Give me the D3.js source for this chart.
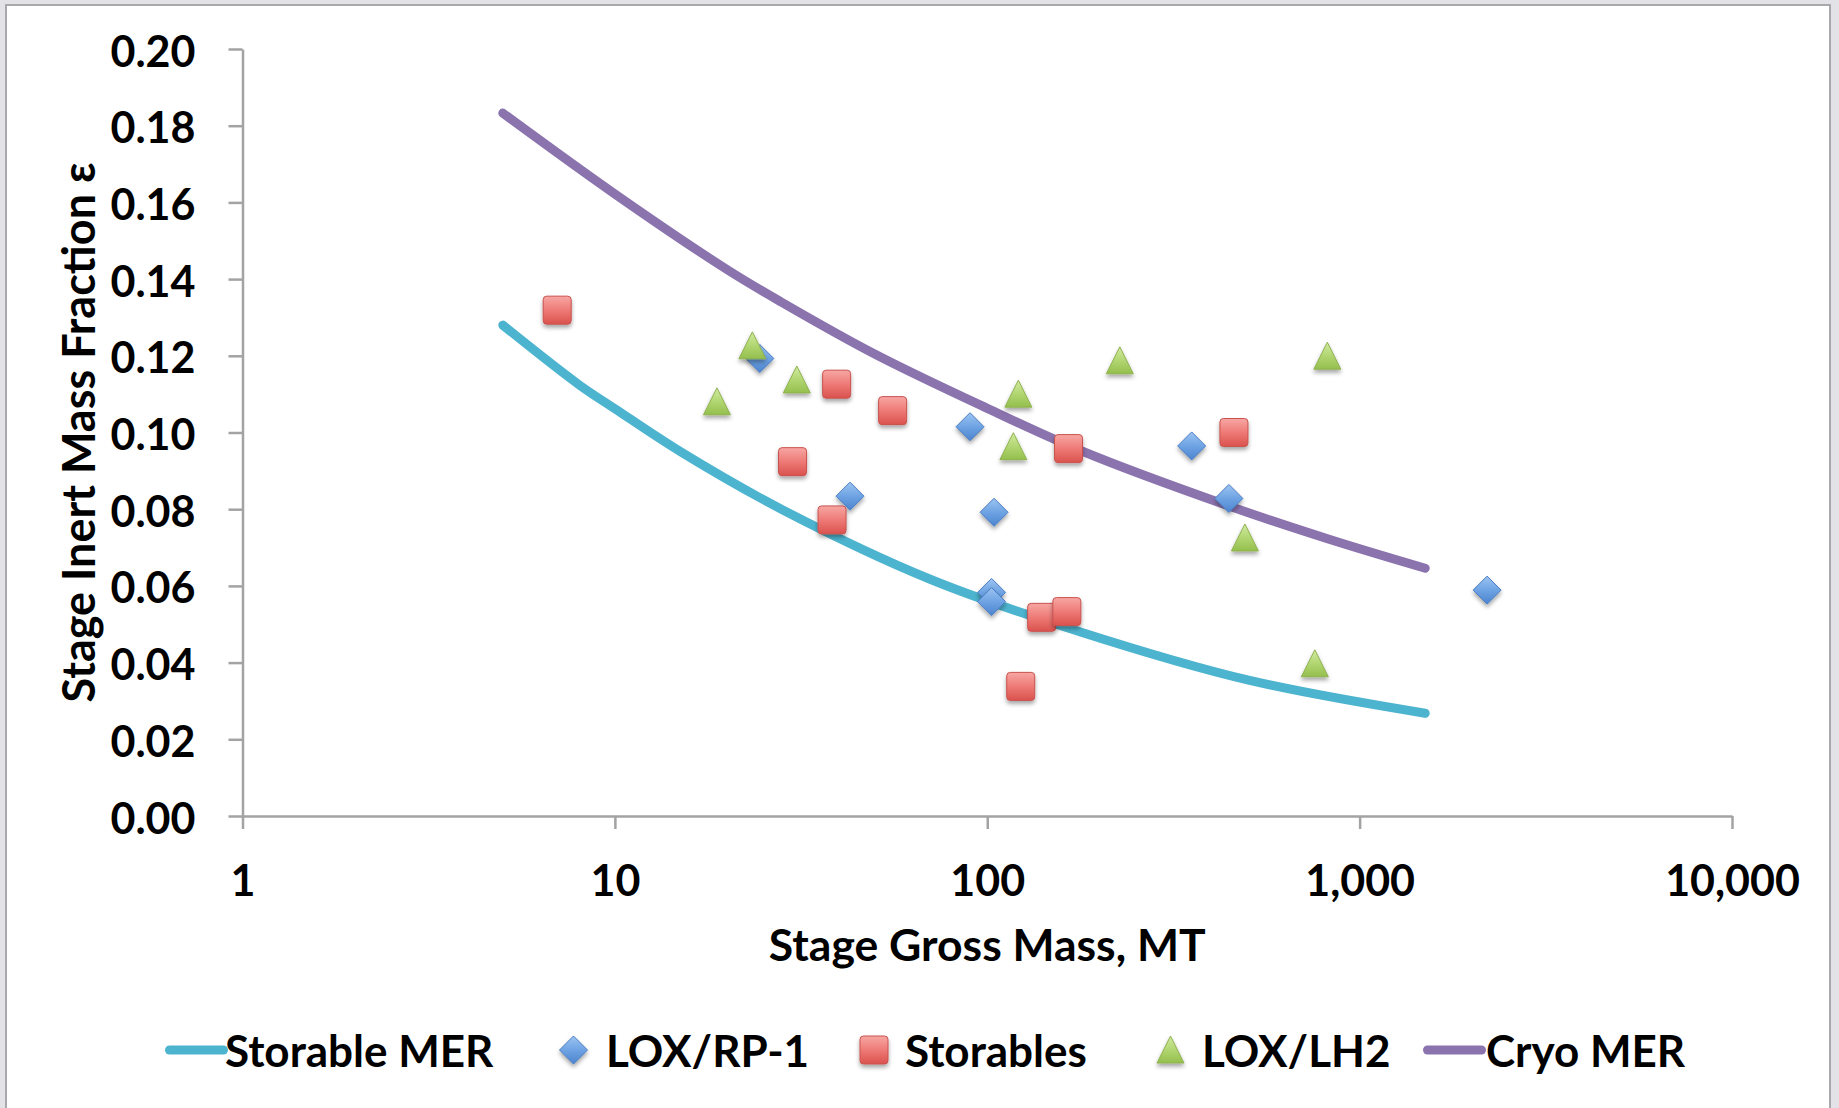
<!DOCTYPE html>
<html>
<head>
<meta charset="utf-8">
<script src="https://cdn.jsdelivr.net/npm/d3@7"></script>
<style>
  html, body { margin: 0; padding: 0; background: #e3e3e7; }
  svg { display: block; }
  text { font-family: Lato, "Open Sans", sans-serif; font-weight: 700; fill: #000; }
</style>
</head>
<body>
<svg id="chart" width="1839" height="1108"></svg>
<script>
// ---- data -------------------------------------------------------------
// Mass estimating relationships: [stage gross mass (MT), inert mass fraction]
const storableMER = [[5, 0.128], [8, 0.1125], [10, 0.1062], [15, 0.0950], [28, 0.0800],
                     [70, 0.0618], [178, 0.0480], [500, 0.0355], [1500, 0.0268]];
const cryoMER = [[5, 0.1833], [10, 0.1622], [20, 0.1425], [28, 0.1340], [50, 0.1204],
                 [100, 0.1063], [178, 0.0953], [444, 0.0809], [832, 0.0721], [1500, 0.0646]];

// Historical stages: [stage gross mass (MT), inert mass fraction]
const loxRP1 = [[24.5, 0.1193], [42.8, 0.0834], [89.9, 0.1015], [104.3, 0.0792],
                [102.7, 0.0583], [102.7, 0.0559], [354, 0.0965], [445.6, 0.0828], [2200, 0.0589]];
const storables = [[7.0, 0.1319], [30.0, 0.0924], [38.3, 0.0772], [39.4, 0.1126], [55.7, 0.1057],
                   [123, 0.0338], [140, 0.0518], [163.6, 0.0533], [165.3, 0.0958], [459.7, 0.1000]];
const loxLH2 = [[18.8, 0.1080], [23.4, 0.1226], [30.8, 0.1137], [117.5, 0.0963], [121.2, 0.1100],
                [227, 0.1187], [492, 0.0725], [758, 0.0397], [819, 0.1199]];

const xTicks = [1, 10, 100, 1000, 10000];
const yTicks = [0, 0.02, 0.04, 0.06, 0.08, 0.10, 0.12, 0.14, 0.16, 0.18, 0.20];
const xTitle = "Stage Gross Mass, MT";
const yTitle = "Stage Inert Mass Fraction ε";
const legendLabels = ["Storable MER", "LOX/RP-1", "Storables", "LOX/LH2", "Cryo MER"];

// ---- setup ------------------------------------------------------------
const svg = d3.select("#chart");
const defs = svg.append("defs");

// soft drop shadow used by the markers
const shadow = defs.append("filter").attr("id", "shadow")
  .attr("x", "-40%").attr("y", "-40%").attr("width", "180%").attr("height", "190%");
shadow.append("feDropShadow").attr("dx", 0).attr("dy", 3).attr("stdDeviation", 2)
  .attr("flood-color", "#000").attr("flood-opacity", 0.35);

function vGradient(id, stops) {
  const g = defs.append("linearGradient").attr("id", id)
    .attr("x1", 0).attr("y1", 0).attr("x2", 0).attr("y2", 1);
  stops.forEach(([o, c]) => g.append("stop").attr("offset", o).attr("stop-color", c));
}
vGradient("gDiamond", [[0, "#9cc4f2"], [0.5, "#6ea3e3"], [1, "#4c84cf"]]);
vGradient("gSquare", [[0, "#f7a7a4"], [0.5, "#ee7a76"], [1, "#da524e"]]);
vGradient("gTriangle", [[0, "#d2eaa0"], [0.5, "#b2d672"], [1, "#94bf4d"]]);

// panel
svg.append("rect").attr("x", 6).attr("y", 5).attr("width", 1824).attr("height", 1120)
  .attr("fill", "#fff").attr("stroke", "#a9a9ad").attr("stroke-width", 2);

const x = d3.scaleLog().domain([1, 10000]).range([242.5, 1732]);
const y = d3.scaleLinear().domain([0, 0.2]).range([816, 49]);

// ---- axes -------------------------------------------------------------
const yAxis = svg.append("g").attr("transform", `translate(${x(1)},0)`)
  .call(d3.axisLeft(y).tickValues(yTicks).tickFormat(d3.format(".2f"))
    .tickSize(14).tickSizeOuter(0).tickPadding(33));
const xAxis = svg.append("g").attr("transform", `translate(0,${y(0)})`)
  .call(d3.axisBottom(x).tickValues(xTicks).tickFormat(d3.format(","))
    .tickSize(13).tickSizeOuter(0).tickPadding(36));

[xAxis, yAxis].forEach(a => {
  a.select(".domain").attr("stroke", "#a3a3a3").attr("stroke-width", 2.5);
  a.selectAll(".tick line").attr("stroke", "#a3a3a3").attr("stroke-width", 2.5);
  a.selectAll(".tick text").attr("fill", "#000").style("font-size", "43px")
    .style("font-family", "Lato, sans-serif").style("font-weight", 700);
});
yAxis.selectAll(".tick text").attr("dy", null).attr("y", 17);

svg.append("text").attr("x", (x(1) + x(10000)) / 2).attr("y", 961)
  .attr("text-anchor", "middle").style("font-size", "44.5px").text(xTitle);
svg.append("text").attr("transform", `translate(95,${(y(0) + y(0.2)) / 2}) rotate(-90)`)
  .attr("text-anchor", "middle").style("font-size", "45px").text(yTitle);

// ---- MER curves -------------------------------------------------------
const line = d3.line().x(d => x(d[0])).y(d => y(d[1])).curve(d3.curveCatmullRom.alpha(0.5));
const lineColors = { storable: "#4db4cf", cryo: "#8b73ae" };
svg.append("path").datum(storableMER).attr("d", line).attr("fill", "none")
  .attr("stroke", lineColors.storable).attr("stroke-width", 9).attr("stroke-linecap", "round");
svg.append("path").datum(cryoMER).attr("d", line).attr("fill", "none")
  .attr("stroke", lineColors.cryo).attr("stroke-width", 9).attr("stroke-linecap", "round");

// ---- markers ----------------------------------------------------------
const diamondPath = "M0,-14L14,0L0,14L-14,0Z";
const trianglePath = "M0,-14L13.5,13L-13.5,13Z";

function drawDiamond(g, cx, cy) {
  g.append("path").attr("d", diamondPath).attr("transform", `translate(${cx},${cy})`)
    .attr("fill", "url(#gDiamond)").attr("stroke", "#4a7dc2").attr("stroke-width", 1)
    .attr("filter", "url(#shadow)");
}
function drawSquare(g, cx, cy) {
  g.append("rect").attr("x", cx - 14).attr("y", cy - 14).attr("width", 28).attr("height", 28)
    .attr("rx", 3.5).attr("fill", "url(#gSquare)").attr("stroke", "#c9524e").attr("stroke-width", 1)
    .attr("filter", "url(#shadow)");
}
function drawTriangle(g, cx, cy) {
  g.append("path").attr("d", trianglePath).attr("transform", `translate(${cx},${cy})`)
    .attr("fill", "url(#gTriangle)").attr("stroke", "#8fb150").attr("stroke-width", 1)
    .attr("stroke-linejoin", "round").attr("filter", "url(#shadow)");
}

const marks = svg.append("g");
loxRP1.forEach(d => drawDiamond(marks, x(d[0]), y(d[1])));
storables.forEach(d => drawSquare(marks, x(d[0]), y(d[1])));
loxLH2.forEach(d => drawTriangle(marks, x(d[0]), y(d[1])));

// ---- legend -----------------------------------------------------------
const legendY = 1050;
const legend = svg.append("g");
const symbolX = [196.5, 573.5, 874, 1170.5, 1454.5];
const textX = [225, 606, 905, 1202, 1486];
legendLabels.forEach((label, i) => {
  if (i === 0 || i === 4) {
    legend.append("line").attr("x1", symbolX[i] - 27).attr("x2", symbolX[i] + 27)
      .attr("y1", legendY).attr("y2", legendY)
      .attr("stroke", i === 0 ? lineColors.storable : lineColors.cryo)
      .attr("stroke-width", 9).attr("stroke-linecap", "round");
  } else if (i === 1) drawDiamond(legend, symbolX[i], legendY);
  else if (i === 2) drawSquare(legend, symbolX[i], legendY);
  else drawTriangle(legend, symbolX[i], legendY);
  legend.append("text").attr("x", textX[i]).attr("y", 1067).style("font-size", "44px").text(label);
});
</script>
</body>
</html>
